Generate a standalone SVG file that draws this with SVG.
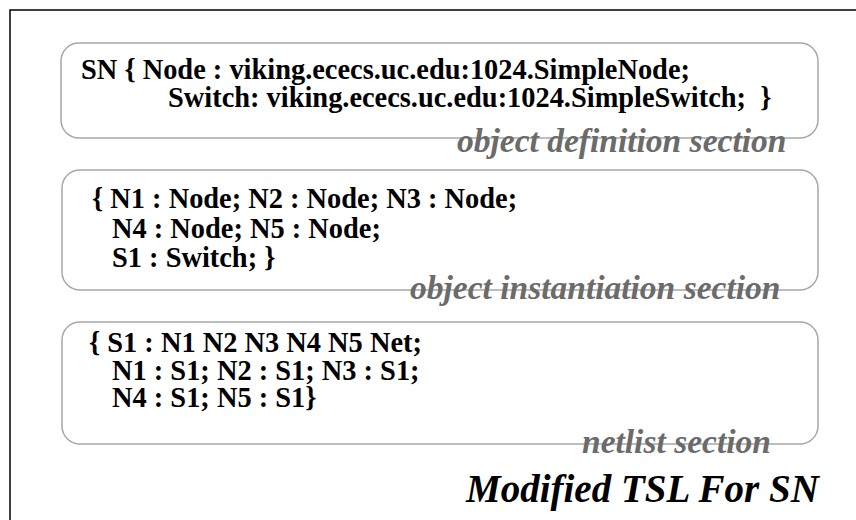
<svg xmlns="http://www.w3.org/2000/svg" width="856" height="520" viewBox="0 0 856 520">
  <style>
    .frame { fill: none; stroke: #000; stroke-width: 1.5; }
    .box { fill: none; stroke: #a8a8a8; stroke-width: 1.5; }
    .code { font-weight: bold; font-size: 28.4px; fill: #000; }
    .label { font-weight: bold; font-style: italic; font-size: 33.5px; fill: #6b6b6b; }
    .title { font-weight: bold; font-style: italic; font-size: 39px; fill: #000; }
  </style>
  <rect width="856" height="520" fill="#fff"/>
  <!-- page frame (open at right and bottom) -->
  <path class="frame" d="M10,520 V10 H856"/>

  <g font-family="Liberation Serif, serif">
    <g id="definition">
      <rect class="box" x="61" y="43" width="757" height="95" rx="18"/>
      <text class="code" x="81" y="79">SN { Node : viking.ececs.uc.edu:1024.SimpleNode;</text>
      <text class="code" x="168" y="107" xml:space="preserve">Switch: viking.ececs.uc.edu:1024.SimpleSwitch;  }</text>
      <text class="label" x="457" y="152">object definition section</text>
    </g>

    <g id="instantiation">
      <rect class="box" x="62" y="170" width="756" height="120" rx="18"/>
      <text class="code" x="92" y="208">{ N1 : Node; N2 : Node; N3 : Node;</text>
      <text class="code" x="112" y="238">N4 : Node; N5 : Node;</text>
      <text class="code" x="112" y="267">S1 : Switch; }</text>
      <text class="label" x="410" y="299">object instantiation section</text>
    </g>

    <g id="netlist">
      <rect class="box" x="62" y="322" width="756" height="122" rx="18"/>
      <text class="code" x="89" y="352">{ S1 : N1 N2 N3 N4 N5 Net;</text>
      <text class="code" x="112" y="380">N1 : S1; N2 : S1; N3 : S1;</text>
      <text class="code" x="112" y="407">N4 : S1; N5 : S1}</text>
      <text class="label" x="582" y="453">netlist section</text>
    </g>

    <g id="caption">
      <text class="title" x="466" y="502">Modified TSL For SN</text>
    </g>
  </g>
</svg>
